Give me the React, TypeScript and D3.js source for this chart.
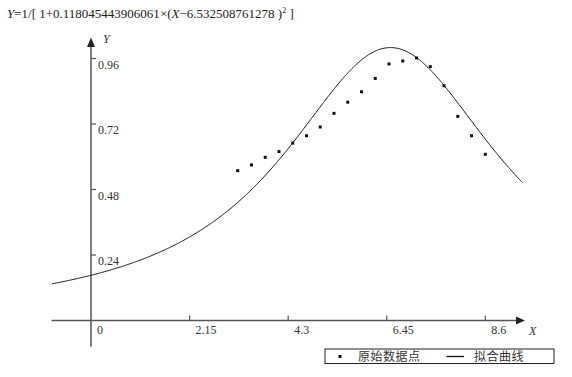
import React from "react";
import * as d3 from "d3";

const xData = [3.2, 3.5, 3.8, 4.1, 4.4, 4.7, 5.0, 5.3, 5.6, 5.9, 6.2, 6.5, 6.8, 7.1, 7.4, 7.7, 8.0, 8.3, 8.6];
const yData = [0.549, 0.570, 0.598, 0.619, 0.650, 0.677, 0.709, 0.759, 0.800, 0.838, 0.887, 0.940, 0.951, 0.962, 0.930, 0.860, 0.748, 0.677, 0.609];
const xTicks = [2.15, 4.3, 6.45, 8.6];
const yTicks = [0.24, 0.48, 0.72, 0.96];
const coefA = 0.118045443906061;
const coefB = 6.532508761278;
const legendLabels = ["原始数据点", "拟合曲线"];

const W = 572, H = 377;
const serif = "'Liberation Serif', 'DejaVu Serif', serif";
const cjk = "'Noto Sans CJK SC', 'Noto Sans', sans-serif";

export default function App() {
  const x = d3.scaleLinear().domain([0, 8.6]).range([91, 485.3]);
  const y = d3.scaleLinear().domain([0, 0.96]).range([320.5, 58.5]);
  const f = (v: number) => 1 / (1 + coefA * (v - coefB) ** 2);
  const curveX = d3.range(-0.85, 9.42, 0.02);
  const line = d3.line<number>().x((d) => x(d)).y((d) => y(f(d))).curve(d3.curveLinear);
  const axisColor = "#555";

  return (
    <svg width={W} height={H} style={{ position: "absolute", left: 0, top: 0, background: "#fff" }}>
      <text x={7} y={18} fontFamily={serif} fontSize={13} fill="#222">
        <tspan fontStyle="italic">Y</tspan>
        <tspan>=1/[ 1+{coefA}×(</tspan>
        <tspan fontStyle="italic">X</tspan>
        <tspan>−{coefB} )</tspan>
        <tspan fontSize={8} dy={-5}>2</tspan>
        <tspan dy={5}> ]</tspan>
      </text>

      {/* x axis */}
      <line x1={51.5} x2={518} y1={y(0)} y2={y(0)} stroke={axisColor} strokeWidth={1.5} />
      <path d={`M525,${y(0)} L516,${y(0) - 4} L516,${y(0) + 4} Z`} fill="#222" />
      {/* y axis */}
      <line x1={x(0)} x2={x(0)} y1={346.5} y2={46} stroke={axisColor} strokeWidth={1.5} />
      <path d={`M${x(0)},37.5 L${x(0) - 4},47 L${x(0) + 4},47 Z`} fill="#222" />

      {xTicks.map((t) => (
        <g key={"xt" + t}>
          <line x1={x(t)} x2={x(t)} y1={y(0)} y2={y(0) - 5} stroke={axisColor} strokeWidth={1.2} />
          <text x={x(t) + 6} y={y(0) + 13} fontFamily={serif} fontSize={12} fill="#333">{t}</text>
        </g>
      ))}
      <text x={x(0) + 6} y={y(0) + 13} fontFamily={serif} fontSize={12} fill="#333">0</text>
      {yTicks.map((t) => (
        <g key={"yt" + t}>
          <line x1={x(0)} x2={x(0) + 5} y1={y(t)} y2={y(t)} stroke={axisColor} strokeWidth={1.2} />
          <text x={x(0) + 7} y={y(t) + 10} fontFamily={serif} fontSize={12} fill="#333">{t}</text>
        </g>
      ))}
      <text x={103} y={43} fontFamily={serif} fontSize={12} fontStyle="italic" fill="#333">Y</text>
      <text x={529} y={335} fontFamily={serif} fontSize={12} fontStyle="italic" fill="#333">X</text>

      <path d={line(curveX) || ""} fill="none" stroke="#111" strokeWidth={1} />

      {xData.map((d, i) => (
        <rect key={"p" + i} x={x(d) - 1.5} y={y(yData[i]) - 1.5} width={3} height={3} fill="#111" />
      ))}

      {/* legend */}
      <rect x={325} y={349} width={229} height={14.5} fill="#fff" stroke="#222" strokeWidth={1} />
      <rect x={338.5} y={355} width={3} height={3} fill="#111" />
      <text x={358} y={361} fontFamily={cjk} fontSize={12} fill="#333" letterSpacing={0.5}>{legendLabels[0]}</text>
      <line x1={446.5} x2={464} y1={356.5} y2={356.5} stroke="#111" strokeWidth={1.3} />
      <text x={474} y={361} fontFamily={cjk} fontSize={12} fill="#333" letterSpacing={0.5}>{legendLabels[1]}</text>
    </svg>
  );
}
